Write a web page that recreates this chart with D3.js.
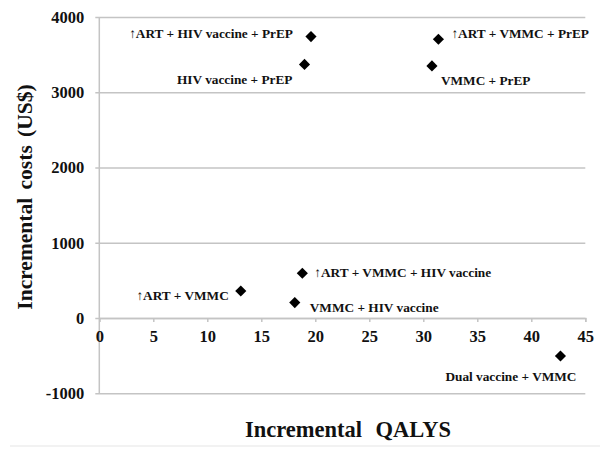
<!DOCTYPE html>
<meta charset="utf-8">
<style>
body { margin: 0; background: #fff; }
text { font-family: "Liberation Serif", "Times New Roman", serif; font-weight: bold; fill: #111; }
</style>
<body>
<svg width="600" height="457" id="chart"></svg>
<script src="https://d3js.org/d3.v7.min.js"></script>
<script>
// data
var strategies = ["\u2191ART + HIV vaccine + PrEP", "HIV vaccine + PrEP", "\u2191ART + VMMC + PrEP", "VMMC + PrEP",
                  "\u2191ART + VMMC", "\u2191ART + VMMC + HIV vaccine", "VMMC + HIV vaccine", "Dual vaccine + VMMC"];
var qalys = [19.6, 19.0, 31.4, 30.8, 13.1, 18.8, 18.1, 42.7];
var costs = [3740, 3370, 3705, 3350, 360, 595, 205, -505];
var xTicks = [0, 5, 10, 15, 20, 25, 30, 35, 40, 45];
var yTicks = [-1000, 0, 1000, 2000, 3000, 4000];

// label placement relative to each marker: [anchor, dx, dy]
var labelPos = [["end", -18, -3], ["end", -12, 14.5], ["start", 13, -6], ["start", 9, 14],
                ["end", -12, 4], ["start", 12, -1], ["start", 15, 5], ["end", 16, 20]];

var svg = d3.select("#chart");

var x = d3.scaleLinear().domain([0, 45]).range([99.3, 585.3]);
var y = d3.scaleLinear().domain([-1000, 4000]).range([393.3, 17]);
var grey = "#c4c4c4";

// gridlines + y labels
svg.append("g")
    .attr("transform", "translate(" + x(0) + ",0)")
    .call(d3.axisLeft(y).tickValues(yTicks).tickSize(-(x(45) - x(0))).tickPadding(15)
      .tickFormat(function(d) { return String(d); }))
    .call(function(g) {
      g.select(".domain").remove();
      g.selectAll(".tick line").attr("stroke", grey).attr("stroke-width", 1.5).attr("x1", -4);
      g.selectAll(".tick text").attr("font-size", 16.5).attr("font-family", null).attr("fill", "#111");
    });

// vertical axis line
svg.append("line")
    .attr("x1", x(0)).attr("x2", x(0))
    .attr("y1", y(4000)).attr("y2", y(-1000))
    .attr("stroke", grey).attr("stroke-width", 1.5);

// x axis on the zero line
svg.append("g")
    .attr("transform", "translate(0," + y(0) + ")")
    .call(d3.axisBottom(x).tickValues(xTicks).tickSize(4).tickPadding(8))
    .call(function(g) {
      g.select(".domain").attr("stroke", grey).attr("stroke-width", 1.5);
      g.selectAll(".tick line").attr("stroke", grey).attr("stroke-width", 1.5);
      g.selectAll(".tick text").attr("font-size", 16.5).attr("font-family", null).attr("fill", "#111");
    });

var pts = strategies.map(function(s, i) { return {name: s, q: qalys[i], c: costs[i], lp: labelPos[i]}; });

var diamond = d3.symbol().type(d3.symbolSquare).size(62);

svg.selectAll(".pt")
  .data(pts)
  .enter().append("path")
    .attr("class", "pt")
    .attr("d", diamond)
    .attr("fill", "#000")
    .attr("transform", function(d) { return "translate(" + x(d.q) + "," + y(d.c) + ") rotate(45)"; });

svg.selectAll(".lbl")
  .data(pts)
  .enter().append("text")
    .attr("class", "lbl")
    .attr("x", function(d) { return x(d.q) + d.lp[1]; })
    .attr("y", function(d) { return y(d.c) + d.lp[2]; })
    .attr("dy", "0.35em")
    .attr("text-anchor", function(d) { return d.lp[0]; })
    .attr("font-size", 13.3)
    .text(function(d) { return d.name; });

// axis titles
svg.append("text")
    .attr("transform", "translate(32,197) rotate(-90)")
    .attr("text-anchor", "middle")
    .attr("font-size", 21.5)
    .attr("word-spacing", 3)
    .text("Incremental costs (US$)");

svg.append("text")
    .attr("x", 348).attr("y", 437)
    .attr("text-anchor", "middle")
    .attr("font-size", 22.5)
    .attr("word-spacing", 8)
    .text("Incremental QALYS");

// faint frame line under the chart
svg.append("line")
    .attr("x1", 10).attr("x2", 600).attr("y1", 446).attr("y2", 446)
    .attr("stroke", "#eeeeee").attr("stroke-width", 1.5);
</script>
</body>
